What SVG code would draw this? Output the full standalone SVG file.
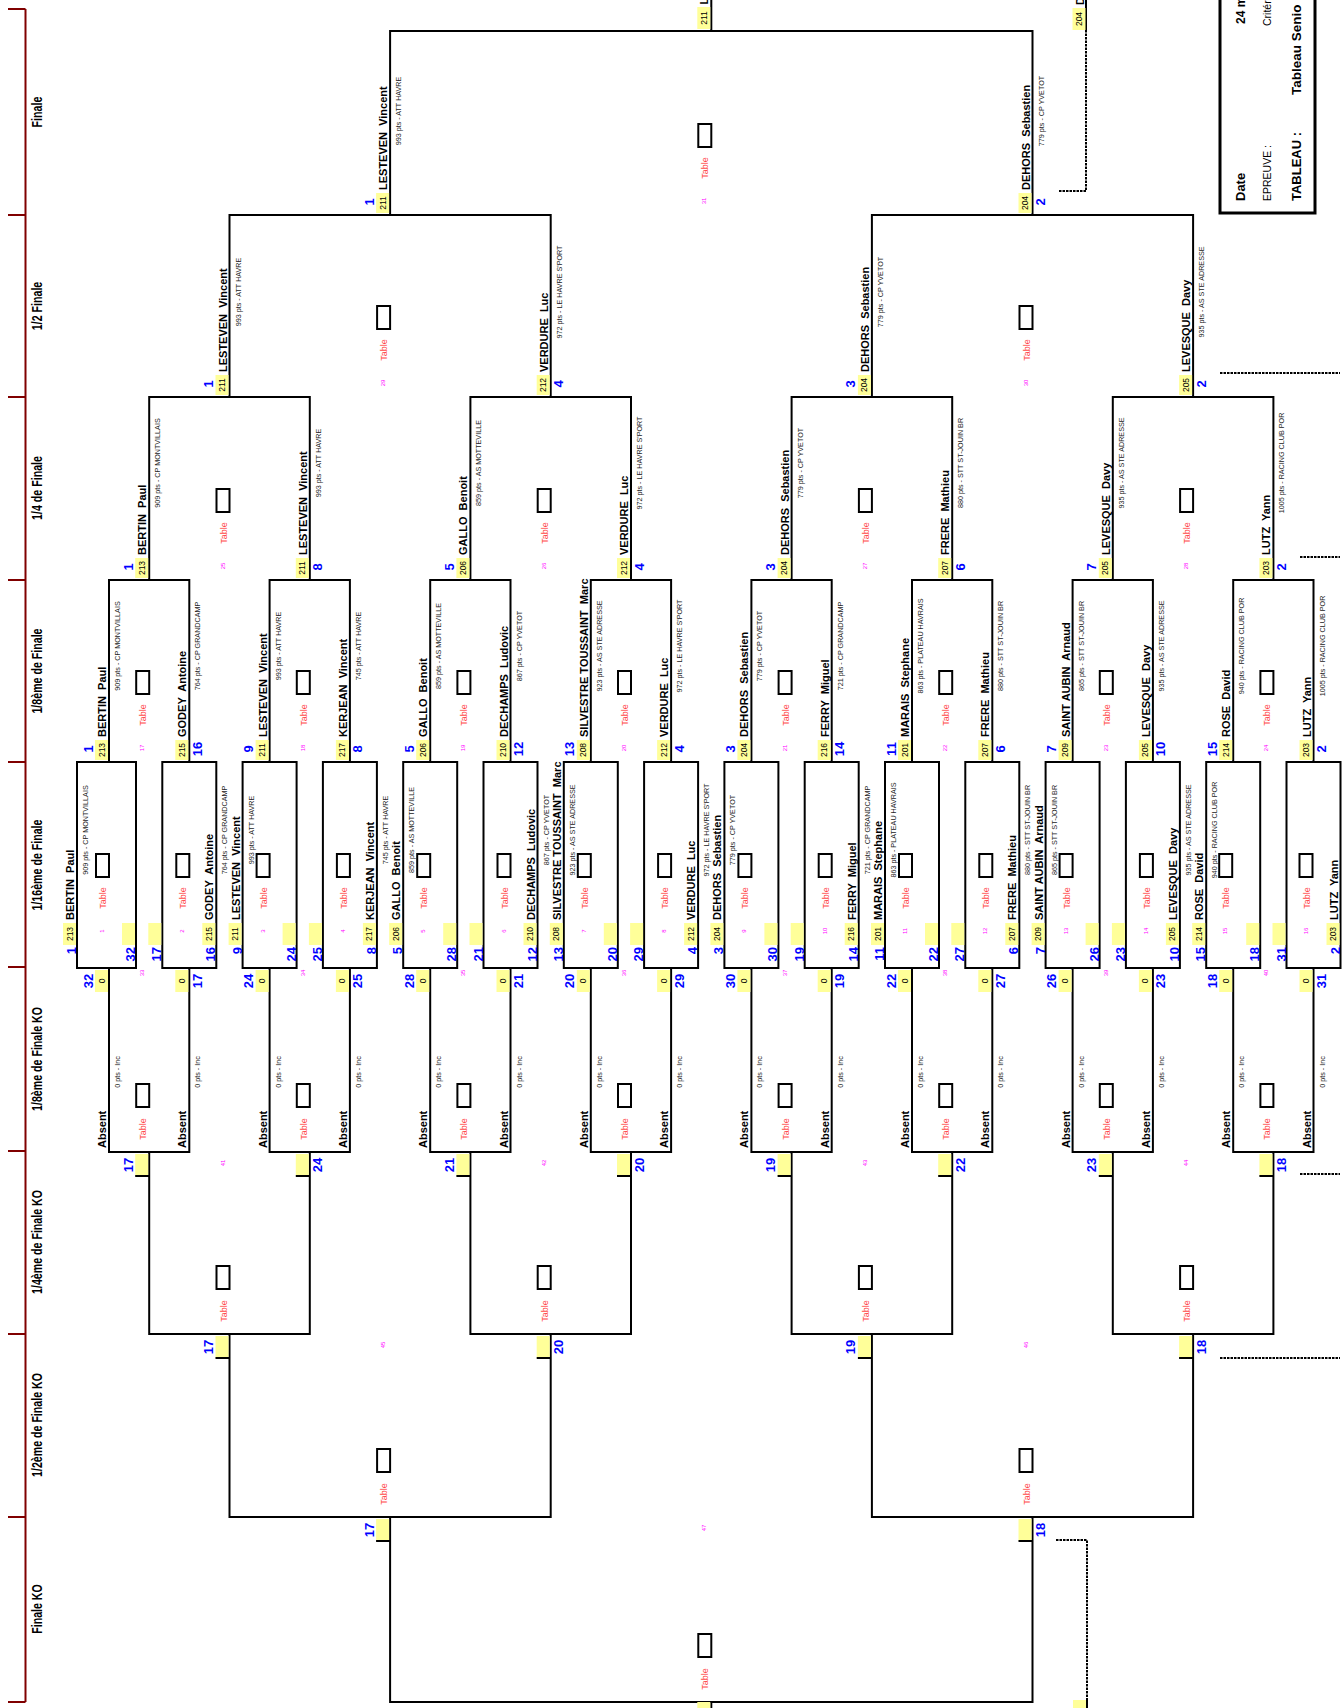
<svg xmlns="http://www.w3.org/2000/svg" width="1343" height="1708" viewBox="0 0 1343 1708">
<style>
text{font-family:"Liberation Sans",Arial,sans-serif}
.ln{fill:none;stroke:#000;stroke-width:2}
.dt{fill:none;stroke:#000;stroke-width:2;stroke-dasharray:2.5 1}
.y{fill:#ffff99}
.tb{fill:#fff;stroke:#000;stroke-width:2}
.n{font-weight:bold;font-size:11px;white-space:pre}
.p{font-size:7.2px;fill:#222;text-anchor:middle}
.b{font-weight:bold;font-size:13px;fill:#0000ff;text-anchor:middle}
.e{text-anchor:end}
.c{font-size:8.5px;text-anchor:middle}
.t{font-size:9px;fill:#ff4848;text-anchor:middle}
.m{font-size:6px;fill:#ff00ff;text-anchor:middle}
.a{font-weight:bold;font-size:14px;text-anchor:middle}
.ax{stroke:#800000;stroke-width:2;fill:none}
</style>
<rect width="1343" height="1708" fill="#fff"/>
<g id="axis">
<path class="ax" d="M25.5 9V1702M8 9H25.5M8 215H25.5M8 397H25.5M8 580H25.5M8 762H25.5M8 967H25.5M8 1151H25.5M8 1334H25.5M8 1517H25.5M8 1702H25.5"/>
<g transform="rotate(-90) scale(0.76,1)">
<text class="a" x="-147.4" y="42">Finale</text>
<text class="a" x="-402.6" y="42">1/2 Finale</text>
<text class="a" x="-642.1" y="42">1/4 de Finale</text>
<text class="a" x="-882.9" y="42">1/8ème de Finale</text>
<text class="a" x="-1138.2" y="42">1/16ème de Finale</text>
<text class="a" x="-1393.4" y="42">1/8ème de Finale KO</text>
<text class="a" x="-1634.2" y="42">1/4ème de Finale KO</text>
<text class="a" x="-1875" y="42">1/2ème de Finale KO</text>
<text class="a" x="-2117.1" y="42">Finale KO</text>
</g>
</g>
<g id="connectors">
<path class="ln" d="M390.1 215V31H1032.5V215M711.3 31V0"/>
<path class="ln" d="M229.5 397V215H550.7V397M871.9 397V215H1193.1V397"/>
<path class="ln" d="M149.2 580V397H309.8V580M470.4 580V397H631V580M791.6 580V397H952.2V580M1112.8 580V397H1273.4V580"/>
<path class="ln" d="M109 762V580H189.3V762M269.6 762V580H349.9V762M430.2 762V580H510.5V762M590.8 762V580H671.1V762M751.4 762V580H831.7V762M912 762V580H992.3V762M1072.6 762V580H1152.9V762M1233.2 762V580H1313.5V762"/>
<path class="ln" d="M77 762H136V968H77ZM162.3 762H216.3V968H162.3ZM242.6 762H296.6V968H242.6ZM322.9 762H376.9V968H322.9ZM403.2 762H457.2V968H403.2ZM483.5 762H537.5V968H483.5ZM563.8 762H617.8V968H563.8ZM644.1 762H698.1V968H644.1ZM724.4 762H778.4V968H724.4ZM804.7 762H858.7V968H804.7ZM885 762H939V968H885ZM965.3 762H1019.3V968H965.3ZM1045.6 762H1099.6V968H1045.6ZM1125.9 762H1179.9V968H1125.9ZM1206.2 762H1260.2V968H1206.2ZM1286.5 762H1340.5V968H1286.5Z"/>
<path class="ln" d="M109 968V1152H189.3V968M269.6 968V1152H349.9V968M430.2 968V1152H510.5V968M590.8 968V1152H671.1V968M751.4 968V1152H831.7V968M912 968V1152H992.3V968M1072.6 968V1152H1152.9V968M1233.2 968V1152H1313.5V968"/>
<path class="ln" d="M149.2 1152V1334H309.8V1152M470.4 1152V1334H631V1152M791.6 1152V1334H952.2V1152M1112.8 1152V1334H1273.4V1152"/>
<path class="ln" d="M229.5 1334V1517H550.7V1334M871.9 1334V1517H1193.1V1334"/>
<path class="ln" d="M390.1 1517V1702H1032.5V1517M711.3 1702V1708"/>
<path class="ln" d="M1086 0V31M1087 1700V1708"/>
<path class="dt" d="M1059 191H1086V31M1220 373H1340M1300 557H1340M1300 1174H1340M1220 1358H1340M1056 1540H1087V1700"/>
</g>
<g id="info">
<rect x="1220" y="-5" width="95" height="218" fill="none" stroke="#000" stroke-width="3"/>
<g transform="rotate(-90)">
<text x="-201" y="1245" font-weight="bold" font-size="13">Date</text>
<text x="-24" y="1245" font-weight="bold" font-size="12">24 m</text>
<text x="-201" y="1271" font-size="10.5">EPREUVE :</text>
<text x="-26" y="1271" font-size="10.5">Critér</text>
<text x="-201" y="1301" font-weight="bold" font-size="13">TABLEAU :</text>
<text x="-95" y="1301" font-weight="bold" font-size="13.5">Tableau Senio</text>
</g>
</g>
<g id="winner" transform="rotate(-90)">
<rect class="y" x="-29" y="697.3" width="22" height="13"/>
<text class="c" x="-18" y="706.8">211</text>
<text class="n" x="-4.5" y="708.3">L</text>
<rect class="y" x="-30" y="1072.5" width="22" height="13"/>
<text class="c" x="-19" y="1082">204</text>
<text class="n" x="-5" y="1083.5">D</text>
<rect class="y" x="-1708" y="697.3" width="6" height="13"/>
<rect class="y" x="-1708" y="1073" width="8" height="13"/>
</g>
<g id="m1" transform="rotate(-90)">
<rect class="tb" x="-877" y="96" width="23" height="13"/><text class="t" x="-898" y="106">Table</text><text class="m" x="-931" y="104">1</text>
<rect class="y" x="-945" y="63" width="22" height="13"/><text class="c" x="-934" y="72.5">213</text><text class="b e" x="-947" y="76">1</text><text class="n" x="-920" y="74">BERTIN  Paul</text><text class="p" x="-830" y="88">909 pts - CP MONTVILLAIS</text>
<rect class="y" x="-945" y="122" width="22" height="13"/><text class="b e" x="-947" y="135">32</text>
</g>
<g id="m2" transform="rotate(-90)">
<rect class="tb" x="-877" y="176.3" width="23" height="13"/><text class="t" x="-898" y="186.3">Table</text><text class="m" x="-931" y="184.3">2</text>
<rect class="y" x="-945" y="148.3" width="22" height="13"/><text class="b e" x="-947" y="161.3">17</text>
<rect class="y" x="-945" y="202.3" width="22" height="13"/><text class="c" x="-934" y="211.8">215</text><text class="b e" x="-947" y="215.3">16</text><text class="n" x="-920" y="213.3">GODEY  Antoine</text><text class="p" x="-830" y="227.3">764 pts - CP GRANDCAMP</text>
</g>
<g id="m3" transform="rotate(-90)">
<rect class="tb" x="-877" y="256.6" width="23" height="13"/><text class="t" x="-898" y="266.6">Table</text><text class="m" x="-931" y="264.6">3</text>
<rect class="y" x="-945" y="228.6" width="22" height="13"/><text class="c" x="-934" y="238.1">211</text><text class="b e" x="-947" y="241.6">9</text><text class="n" x="-920" y="239.6">LESTEVEN  Vincent</text><text class="p" x="-830" y="253.6">993 pts - ATT HAVRE</text>
<rect class="y" x="-945" y="282.6" width="22" height="13"/><text class="b e" x="-947" y="295.6">24</text>
</g>
<g id="m4" transform="rotate(-90)">
<rect class="tb" x="-877" y="336.9" width="23" height="13"/><text class="t" x="-898" y="346.9">Table</text><text class="m" x="-931" y="344.9">4</text>
<rect class="y" x="-945" y="308.9" width="22" height="13"/><text class="b e" x="-947" y="321.9">25</text>
<rect class="y" x="-945" y="362.9" width="22" height="13"/><text class="c" x="-934" y="372.4">217</text><text class="b e" x="-947" y="375.9">8</text><text class="n" x="-920" y="373.9">KERJEAN  Vincent</text><text class="p" x="-830" y="387.9">745 pts - ATT HAVRE</text>
</g>
<g id="m5" transform="rotate(-90)">
<rect class="tb" x="-877" y="417.2" width="23" height="13"/><text class="t" x="-898" y="427.2">Table</text><text class="m" x="-931" y="425.2">5</text>
<rect class="y" x="-945" y="389.2" width="22" height="13"/><text class="c" x="-934" y="398.7">206</text><text class="b e" x="-947" y="402.2">5</text><text class="n" x="-920" y="400.2">GALLO  Benoit</text><text class="p" x="-830" y="414.2">859 pts - AS MOTTEVILLE</text>
<rect class="y" x="-945" y="443.2" width="22" height="13"/><text class="b e" x="-947" y="456.2">28</text>
</g>
<g id="m6" transform="rotate(-90)">
<rect class="tb" x="-877" y="497.5" width="23" height="13"/><text class="t" x="-898" y="507.5">Table</text><text class="m" x="-931" y="505.5">6</text>
<rect class="y" x="-945" y="469.5" width="22" height="13"/><text class="b e" x="-947" y="482.5">21</text>
<rect class="y" x="-945" y="523.5" width="22" height="13"/><text class="c" x="-934" y="533">210</text><text class="b e" x="-947" y="536.5">12</text><text class="n" x="-920" y="534.5">DECHAMPS  Ludovic</text><text class="p" x="-830" y="548.5">867 pts - CP YVETOT</text>
</g>
<g id="m7" transform="rotate(-90)">
<rect class="tb" x="-877" y="577.8" width="23" height="13"/><text class="t" x="-898" y="587.8">Table</text><text class="m" x="-931" y="585.8">7</text>
<rect class="y" x="-945" y="549.8" width="22" height="13"/><text class="c" x="-934" y="559.3">208</text><text class="b e" x="-947" y="562.8">13</text><text class="n" x="-920" y="560.8">SILVESTRE TOUSSAINT  Marc</text><text class="p" x="-830" y="574.8">923 pts - AS STE ADRESSE</text>
<rect class="y" x="-945" y="603.8" width="22" height="13"/><text class="b e" x="-947" y="616.8">20</text>
</g>
<g id="m8" transform="rotate(-90)">
<rect class="tb" x="-877" y="658.1" width="23" height="13"/><text class="t" x="-898" y="668.1">Table</text><text class="m" x="-931" y="666.1">8</text>
<rect class="y" x="-945" y="630.1" width="22" height="13"/><text class="b e" x="-947" y="643.1">29</text>
<rect class="y" x="-945" y="684.1" width="22" height="13"/><text class="c" x="-934" y="693.6">212</text><text class="b e" x="-947" y="697.1">4</text><text class="n" x="-920" y="695.1">VERDURE  Luc</text><text class="p" x="-830" y="709.1">972 pts - LE HAVRE S'PORT</text>
</g>
<g id="m9" transform="rotate(-90)">
<rect class="tb" x="-877" y="738.4" width="23" height="13"/><text class="t" x="-898" y="748.4">Table</text><text class="m" x="-931" y="746.4">9</text>
<rect class="y" x="-945" y="710.4" width="22" height="13"/><text class="c" x="-934" y="719.9">204</text><text class="b e" x="-947" y="723.4">3</text><text class="n" x="-920" y="721.4">DEHORS  Sebastien</text><text class="p" x="-830" y="735.4">779 pts - CP YVETOT</text>
<rect class="y" x="-945" y="764.4" width="22" height="13"/><text class="b e" x="-947" y="777.4">30</text>
</g>
<g id="m10" transform="rotate(-90)">
<rect class="tb" x="-877" y="818.7" width="23" height="13"/><text class="t" x="-898" y="828.7">Table</text><text class="m" x="-931" y="826.7">10</text>
<rect class="y" x="-945" y="790.7" width="22" height="13"/><text class="b e" x="-947" y="803.7">19</text>
<rect class="y" x="-945" y="844.7" width="22" height="13"/><text class="c" x="-934" y="854.2">216</text><text class="b e" x="-947" y="857.7">14</text><text class="n" x="-920" y="855.7">FERRY  Miguel</text><text class="p" x="-830" y="869.7">721 pts - CP GRANDCAMP</text>
</g>
<g id="m11" transform="rotate(-90)">
<rect class="tb" x="-877" y="899" width="23" height="13"/><text class="t" x="-898" y="909">Table</text><text class="m" x="-931" y="907">11</text>
<rect class="y" x="-945" y="871" width="22" height="13"/><text class="c" x="-934" y="880.5">201</text><text class="b e" x="-947" y="884">11</text><text class="n" x="-920" y="882">MARAIS  Stephane</text><text class="p" x="-830" y="896">863 pts - PLATEAU HAVRAIS</text>
<rect class="y" x="-945" y="925" width="22" height="13"/><text class="b e" x="-947" y="938">22</text>
</g>
<g id="m12" transform="rotate(-90)">
<rect class="tb" x="-877" y="979.3" width="23" height="13"/><text class="t" x="-898" y="989.3">Table</text><text class="m" x="-931" y="987.3">12</text>
<rect class="y" x="-945" y="951.3" width="22" height="13"/><text class="b e" x="-947" y="964.3">27</text>
<rect class="y" x="-945" y="1005.3" width="22" height="13"/><text class="c" x="-934" y="1014.8">207</text><text class="b e" x="-947" y="1018.3">6</text><text class="n" x="-920" y="1016.3">FRERE  Mathieu</text><text class="p" x="-830" y="1030.3">880 pts - STT ST-JOUIN BR</text>
</g>
<g id="m13" transform="rotate(-90)">
<rect class="tb" x="-877" y="1059.6" width="23" height="13"/><text class="t" x="-898" y="1069.6">Table</text><text class="m" x="-931" y="1067.6">13</text>
<rect class="y" x="-945" y="1031.6" width="22" height="13"/><text class="c" x="-934" y="1041.1">209</text><text class="b e" x="-947" y="1044.6">7</text><text class="n" x="-920" y="1042.6">SAINT AUBIN  Arnaud</text><text class="p" x="-830" y="1056.6">865 pts - STT ST-JOUIN BR</text>
<rect class="y" x="-945" y="1085.6" width="22" height="13"/><text class="b e" x="-947" y="1098.6">26</text>
</g>
<g id="m14" transform="rotate(-90)">
<rect class="tb" x="-877" y="1139.9" width="23" height="13"/><text class="t" x="-898" y="1149.9">Table</text><text class="m" x="-931" y="1147.9">14</text>
<rect class="y" x="-945" y="1111.9" width="22" height="13"/><text class="b e" x="-947" y="1124.9">23</text>
<rect class="y" x="-945" y="1165.9" width="22" height="13"/><text class="c" x="-934" y="1175.4">205</text><text class="b e" x="-947" y="1178.9">10</text><text class="n" x="-920" y="1176.9">LEVESQUE  Davy</text><text class="p" x="-830" y="1190.9">935 pts - AS STE ADRESSE</text>
</g>
<g id="m15" transform="rotate(-90)">
<rect class="tb" x="-877" y="1219.2" width="23" height="13"/><text class="t" x="-898" y="1229.2">Table</text><text class="m" x="-931" y="1227.2">15</text>
<rect class="y" x="-945" y="1192.2" width="22" height="13"/><text class="c" x="-934" y="1201.7">214</text><text class="b e" x="-947" y="1205.2">15</text><text class="n" x="-920" y="1203.2">ROSE  David</text><text class="p" x="-830" y="1217.2">940 pts - RACING CLUB POR</text>
<rect class="y" x="-945" y="1246.2" width="22" height="13"/><text class="b e" x="-947" y="1259.2">18</text>
</g>
<g id="m16" transform="rotate(-90)">
<rect class="tb" x="-877" y="1299.5" width="23" height="13"/><text class="t" x="-898" y="1309.5">Table</text><text class="m" x="-931" y="1307.5">16</text>
<rect class="y" x="-945" y="1272.5" width="22" height="13"/><text class="b e" x="-947" y="1285.5">31</text>
<rect class="y" x="-945" y="1326.5" width="22" height="13"/><text class="c" x="-934" y="1336">203</text><text class="b e" x="-947" y="1339.5">2</text><text class="n" x="-920" y="1337.5">LUTZ  Yann</text>
</g>
<g id="m17" transform="rotate(-90)">
<rect class="tb" x="-694" y="136.2" width="23" height="13"/><text class="t" x="-715" y="146.2">Table</text><text class="m" x="-748" y="144.2">17</text>
<rect class="y" x="-760" y="95" width="20" height="13"/><text class="c" x="-750" y="104.5">213</text><text class="b" x="-749" y="92.5">1</text><text class="n" x="-737" y="106">BERTIN  Paul</text><text class="p" x="-646" y="120">909 pts - CP MONTVILLAIS</text>
<rect class="y" x="-760" y="175.3" width="20" height="13"/><text class="c" x="-750" y="184.8">215</text><text class="b" x="-749" y="201.8">16</text><text class="n" x="-737" y="186.3">GODEY  Antoine</text><text class="p" x="-646" y="200.3">764 pts - CP GRANDCAMP</text>
</g>
<g id="m18" transform="rotate(-90)">
<rect class="tb" x="-694" y="296.8" width="23" height="13"/><text class="t" x="-715" y="306.8">Table</text><text class="m" x="-748" y="304.8">18</text>
<rect class="y" x="-760" y="255.6" width="20" height="13"/><text class="c" x="-750" y="265.1">211</text><text class="b" x="-749" y="253.1">9</text><text class="n" x="-737" y="266.6">LESTEVEN  Vincent</text><text class="p" x="-646" y="280.6">993 pts - ATT HAVRE</text>
<rect class="y" x="-760" y="335.9" width="20" height="13"/><text class="c" x="-750" y="345.4">217</text><text class="b" x="-749" y="362.4">8</text><text class="n" x="-737" y="346.9">KERJEAN  Vincent</text><text class="p" x="-646" y="360.9">745 pts - ATT HAVRE</text>
</g>
<g id="m19" transform="rotate(-90)">
<rect class="tb" x="-694" y="457.4" width="23" height="13"/><text class="t" x="-715" y="467.4">Table</text><text class="m" x="-748" y="465.4">19</text>
<rect class="y" x="-760" y="416.2" width="20" height="13"/><text class="c" x="-750" y="425.7">206</text><text class="b" x="-749" y="413.7">5</text><text class="n" x="-737" y="427.2">GALLO  Benoit</text><text class="p" x="-646" y="441.2">859 pts - AS MOTTEVILLE</text>
<rect class="y" x="-760" y="496.5" width="20" height="13"/><text class="c" x="-750" y="506">210</text><text class="b" x="-749" y="523">12</text><text class="n" x="-737" y="507.5">DECHAMPS  Ludovic</text><text class="p" x="-646" y="521.5">867 pts - CP YVETOT</text>
</g>
<g id="m20" transform="rotate(-90)">
<rect class="tb" x="-694" y="618" width="23" height="13"/><text class="t" x="-715" y="628">Table</text><text class="m" x="-748" y="626">20</text>
<rect class="y" x="-760" y="576.8" width="20" height="13"/><text class="c" x="-750" y="586.3">208</text><text class="b" x="-749" y="574.3">13</text><text class="n" x="-737" y="587.8">SILVESTRE TOUSSAINT  Marc</text><text class="p" x="-646" y="601.8">923 pts - AS STE ADRESSE</text>
<rect class="y" x="-760" y="657.1" width="20" height="13"/><text class="c" x="-750" y="666.6">212</text><text class="b" x="-749" y="683.6">4</text><text class="n" x="-737" y="668.1">VERDURE  Luc</text><text class="p" x="-646" y="682.1">972 pts - LE HAVRE S'PORT</text>
</g>
<g id="m21" transform="rotate(-90)">
<rect class="tb" x="-694" y="778.6" width="23" height="13"/><text class="t" x="-715" y="788.6">Table</text><text class="m" x="-748" y="786.6">21</text>
<rect class="y" x="-760" y="737.4" width="20" height="13"/><text class="c" x="-750" y="746.9">204</text><text class="b" x="-749" y="734.9">3</text><text class="n" x="-737" y="748.4">DEHORS  Sebastien</text><text class="p" x="-646" y="762.4">779 pts - CP YVETOT</text>
<rect class="y" x="-760" y="817.7" width="20" height="13"/><text class="c" x="-750" y="827.2">216</text><text class="b" x="-749" y="844.2">14</text><text class="n" x="-737" y="828.7">FERRY  Miguel</text><text class="p" x="-646" y="842.7">721 pts - CP GRANDCAMP</text>
</g>
<g id="m22" transform="rotate(-90)">
<rect class="tb" x="-694" y="939.2" width="23" height="13"/><text class="t" x="-715" y="949.2">Table</text><text class="m" x="-748" y="947.2">22</text>
<rect class="y" x="-760" y="898" width="20" height="13"/><text class="c" x="-750" y="907.5">201</text><text class="b" x="-749" y="895.5">11</text><text class="n" x="-737" y="909">MARAIS  Stephane</text><text class="p" x="-646" y="923">863 pts - PLATEAU HAVRAIS</text>
<rect class="y" x="-760" y="978.3" width="20" height="13"/><text class="c" x="-750" y="987.8">207</text><text class="b" x="-749" y="1004.8">6</text><text class="n" x="-737" y="989.3">FRERE  Mathieu</text><text class="p" x="-646" y="1003.3">880 pts - STT ST-JOUIN BR</text>
</g>
<g id="m23" transform="rotate(-90)">
<rect class="tb" x="-694" y="1099.8" width="23" height="13"/><text class="t" x="-715" y="1109.8">Table</text><text class="m" x="-748" y="1107.8">23</text>
<rect class="y" x="-760" y="1058.6" width="20" height="13"/><text class="c" x="-750" y="1068.1">209</text><text class="b" x="-749" y="1056.1">7</text><text class="n" x="-737" y="1069.6">SAINT AUBIN  Arnaud</text><text class="p" x="-646" y="1083.6">865 pts - STT ST-JOUIN BR</text>
<rect class="y" x="-760" y="1138.9" width="20" height="13"/><text class="c" x="-750" y="1148.4">205</text><text class="b" x="-749" y="1165.4">10</text><text class="n" x="-737" y="1149.9">LEVESQUE  Davy</text><text class="p" x="-646" y="1163.9">935 pts - AS STE ADRESSE</text>
</g>
<g id="m24" transform="rotate(-90)">
<rect class="tb" x="-694" y="1260.4" width="23" height="13"/><text class="t" x="-715" y="1270.4">Table</text><text class="m" x="-748" y="1268.4">24</text>
<rect class="y" x="-760" y="1219.2" width="20" height="13"/><text class="c" x="-750" y="1228.7">214</text><text class="b" x="-749" y="1216.7">15</text><text class="n" x="-737" y="1230.2">ROSE  David</text><text class="p" x="-646" y="1244.2">940 pts - RACING CLUB POR</text>
<rect class="y" x="-760" y="1299.5" width="20" height="13"/><text class="c" x="-750" y="1309">203</text><text class="b" x="-749" y="1326">2</text><text class="n" x="-737" y="1310.5">LUTZ  Yann</text><text class="p" x="-646" y="1324.5">1005 pts - RACING CLUB POR</text>
</g>
<g id="m25" transform="rotate(-90)">
<rect class="tb" x="-512" y="216.5" width="23" height="13"/><text class="t" x="-533" y="226.5">Table</text><text class="m" x="-566" y="224.5">25</text>
<rect class="y" x="-578" y="135.2" width="20" height="13"/><text class="c" x="-568" y="144.7">213</text><text class="b" x="-567" y="132.7">1</text><text class="n" x="-555" y="146.2">BERTIN  Paul</text><text class="p" x="-463" y="160.2">909 pts - CP MONTVILLAIS</text>
<rect class="y" x="-578" y="295.8" width="20" height="13"/><text class="c" x="-568" y="305.3">211</text><text class="b" x="-567" y="322.3">8</text><text class="n" x="-555" y="306.8">LESTEVEN  Vincent</text><text class="p" x="-463" y="320.8">993 pts - ATT HAVRE</text>
</g>
<g id="m26" transform="rotate(-90)">
<rect class="tb" x="-512" y="537.7" width="23" height="13"/><text class="t" x="-533" y="547.7">Table</text><text class="m" x="-566" y="545.7">26</text>
<rect class="y" x="-578" y="456.4" width="20" height="13"/><text class="c" x="-568" y="465.9">206</text><text class="b" x="-567" y="453.9">5</text><text class="n" x="-555" y="467.4">GALLO  Benoit</text><text class="p" x="-463" y="481.4">859 pts - AS MOTTEVILLE</text>
<rect class="y" x="-578" y="617" width="20" height="13"/><text class="c" x="-568" y="626.5">212</text><text class="b" x="-567" y="643.5">4</text><text class="n" x="-555" y="628">VERDURE  Luc</text><text class="p" x="-463" y="642">972 pts - LE HAVRE S'PORT</text>
</g>
<g id="m27" transform="rotate(-90)">
<rect class="tb" x="-512" y="858.9" width="23" height="13"/><text class="t" x="-533" y="868.9">Table</text><text class="m" x="-566" y="866.9">27</text>
<rect class="y" x="-578" y="777.6" width="20" height="13"/><text class="c" x="-568" y="787.1">204</text><text class="b" x="-567" y="775.1">3</text><text class="n" x="-555" y="788.6">DEHORS  Sebastien</text><text class="p" x="-463" y="802.6">779 pts - CP YVETOT</text>
<rect class="y" x="-578" y="938.2" width="20" height="13"/><text class="c" x="-568" y="947.7">207</text><text class="b" x="-567" y="964.7">6</text><text class="n" x="-555" y="949.2">FRERE  Mathieu</text><text class="p" x="-463" y="963.2">880 pts - STT ST-JOUIN BR</text>
</g>
<g id="m28" transform="rotate(-90)">
<rect class="tb" x="-512" y="1180.1" width="23" height="13"/><text class="t" x="-533" y="1190.1">Table</text><text class="m" x="-566" y="1188.1">28</text>
<rect class="y" x="-578" y="1098.8" width="20" height="13"/><text class="c" x="-568" y="1108.3">205</text><text class="b" x="-567" y="1096.3">7</text><text class="n" x="-555" y="1109.8">LEVESQUE  Davy</text><text class="p" x="-463" y="1123.8">935 pts - AS STE ADRESSE</text>
<rect class="y" x="-578" y="1259.4" width="20" height="13"/><text class="c" x="-568" y="1268.9">203</text><text class="b" x="-567" y="1285.9">2</text><text class="n" x="-555" y="1270.4">LUTZ  Yann</text><text class="p" x="-463" y="1284.4">1005 pts - RACING CLUB POR</text>
</g>
<g id="m29" transform="rotate(-90)">
<rect class="tb" x="-329" y="377.1" width="23" height="13"/><text class="t" x="-350" y="387.1">Table</text><text class="m" x="-383" y="385.1">29</text>
<rect class="y" x="-395" y="215.5" width="20" height="13"/><text class="c" x="-385" y="225">211</text><text class="b" x="-384" y="213">1</text><text class="n" x="-372" y="226.5">LESTEVEN  Vincent</text><text class="p" x="-292" y="240.5">993 pts - ATT HAVRE</text>
<rect class="y" x="-395" y="536.7" width="20" height="13"/><text class="c" x="-385" y="546.2">212</text><text class="b" x="-384" y="563.2">4</text><text class="n" x="-372" y="547.7">VERDURE  Luc</text><text class="p" x="-292" y="561.7">972 pts - LE HAVRE S'PORT</text>
</g>
<g id="m30" transform="rotate(-90)">
<rect class="tb" x="-329" y="1019.5" width="23" height="13"/><text class="t" x="-350" y="1029.5">Table</text><text class="m" x="-383" y="1027.5">30</text>
<rect class="y" x="-395" y="857.9" width="20" height="13"/><text class="c" x="-385" y="867.4">204</text><text class="b" x="-384" y="855.4">3</text><text class="n" x="-372" y="868.9">DEHORS  Sebastien</text><text class="p" x="-292" y="882.9">779 pts - CP YVETOT</text>
<rect class="y" x="-395" y="1179.1" width="20" height="13"/><text class="c" x="-385" y="1188.6">205</text><text class="b" x="-384" y="1205.6">2</text><text class="n" x="-372" y="1190.1">LEVESQUE  Davy</text><text class="p" x="-292" y="1204.1">935 pts - AS STE ADRESSE</text>
</g>
<g id="m31" transform="rotate(-90)">
<rect class="tb" x="-147" y="698.3" width="23" height="13"/><text class="t" x="-168" y="708.3">Table</text><text class="m" x="-201" y="706.3">31</text>
<rect class="y" x="-213" y="376.1" width="20" height="13"/><text class="c" x="-203" y="385.6">211</text><text class="b" x="-202" y="373.6">1</text><text class="n" x="-190" y="387.1">LESTEVEN  Vincent</text><text class="p" x="-111" y="401.1">993 pts - ATT HAVRE</text>
<rect class="y" x="-213" y="1018.5" width="20" height="13"/><text class="c" x="-203" y="1028">204</text><text class="b" x="-202" y="1045">2</text><text class="n" x="-190" y="1029.5">DEHORS  Sebastien</text><text class="p" x="-111" y="1043.5">779 pts - CP YVETOT</text>
</g>
<g id="m33" transform="rotate(-90)">
<rect class="tb" x="-1107" y="136.2" width="23" height="13"/><text class="t" x="-1129" y="146.2">Table</text><text class="m" x="-973" y="144.2">33</text>
<rect class="y" x="-992" y="95" width="22" height="13"/><text class="c" x="-981" y="104.5">0</text><text class="b" x="-981" y="92.5">32</text><text class="n" x="-1148" y="106">Absent</text><text class="p" x="-1072" y="120">0 pts - Inc</text>
<rect class="y" x="-992" y="175.3" width="22" height="13"/><text class="c" x="-981" y="184.8">0</text><text class="b" x="-981" y="201.8">17</text><text class="n" x="-1148" y="186.3">Absent</text><text class="p" x="-1072" y="200.3">0 pts - Inc</text>
</g>
<g id="m34" transform="rotate(-90)">
<rect class="tb" x="-1107" y="296.8" width="23" height="13"/><text class="t" x="-1129" y="306.8">Table</text><text class="m" x="-973" y="304.8">34</text>
<rect class="y" x="-992" y="255.6" width="22" height="13"/><text class="c" x="-981" y="265.1">0</text><text class="b" x="-981" y="253.1">24</text><text class="n" x="-1148" y="266.6">Absent</text><text class="p" x="-1072" y="280.6">0 pts - Inc</text>
<rect class="y" x="-992" y="335.9" width="22" height="13"/><text class="c" x="-981" y="345.4">0</text><text class="b" x="-981" y="362.4">25</text><text class="n" x="-1148" y="346.9">Absent</text><text class="p" x="-1072" y="360.9">0 pts - Inc</text>
</g>
<g id="m35" transform="rotate(-90)">
<rect class="tb" x="-1107" y="457.4" width="23" height="13"/><text class="t" x="-1129" y="467.4">Table</text><text class="m" x="-973" y="465.4">35</text>
<rect class="y" x="-992" y="416.2" width="22" height="13"/><text class="c" x="-981" y="425.7">0</text><text class="b" x="-981" y="413.7">28</text><text class="n" x="-1148" y="427.2">Absent</text><text class="p" x="-1072" y="441.2">0 pts - Inc</text>
<rect class="y" x="-992" y="496.5" width="22" height="13"/><text class="c" x="-981" y="506">0</text><text class="b" x="-981" y="523">21</text><text class="n" x="-1148" y="507.5">Absent</text><text class="p" x="-1072" y="521.5">0 pts - Inc</text>
</g>
<g id="m36" transform="rotate(-90)">
<rect class="tb" x="-1107" y="618" width="23" height="13"/><text class="t" x="-1129" y="628">Table</text><text class="m" x="-973" y="626">36</text>
<rect class="y" x="-992" y="576.8" width="22" height="13"/><text class="c" x="-981" y="586.3">0</text><text class="b" x="-981" y="574.3">20</text><text class="n" x="-1148" y="587.8">Absent</text><text class="p" x="-1072" y="601.8">0 pts - Inc</text>
<rect class="y" x="-992" y="657.1" width="22" height="13"/><text class="c" x="-981" y="666.6">0</text><text class="b" x="-981" y="683.6">29</text><text class="n" x="-1148" y="668.1">Absent</text><text class="p" x="-1072" y="682.1">0 pts - Inc</text>
</g>
<g id="m37" transform="rotate(-90)">
<rect class="tb" x="-1107" y="778.6" width="23" height="13"/><text class="t" x="-1129" y="788.6">Table</text><text class="m" x="-973" y="786.6">37</text>
<rect class="y" x="-992" y="737.4" width="22" height="13"/><text class="c" x="-981" y="746.9">0</text><text class="b" x="-981" y="734.9">30</text><text class="n" x="-1148" y="748.4">Absent</text><text class="p" x="-1072" y="762.4">0 pts - Inc</text>
<rect class="y" x="-992" y="817.7" width="22" height="13"/><text class="c" x="-981" y="827.2">0</text><text class="b" x="-981" y="844.2">19</text><text class="n" x="-1148" y="828.7">Absent</text><text class="p" x="-1072" y="842.7">0 pts - Inc</text>
</g>
<g id="m38" transform="rotate(-90)">
<rect class="tb" x="-1107" y="939.2" width="23" height="13"/><text class="t" x="-1129" y="949.2">Table</text><text class="m" x="-973" y="947.2">38</text>
<rect class="y" x="-992" y="898" width="22" height="13"/><text class="c" x="-981" y="907.5">0</text><text class="b" x="-981" y="895.5">22</text><text class="n" x="-1148" y="909">Absent</text><text class="p" x="-1072" y="923">0 pts - Inc</text>
<rect class="y" x="-992" y="978.3" width="22" height="13"/><text class="c" x="-981" y="987.8">0</text><text class="b" x="-981" y="1004.8">27</text><text class="n" x="-1148" y="989.3">Absent</text><text class="p" x="-1072" y="1003.3">0 pts - Inc</text>
</g>
<g id="m39" transform="rotate(-90)">
<rect class="tb" x="-1107" y="1099.8" width="23" height="13"/><text class="t" x="-1129" y="1109.8">Table</text><text class="m" x="-973" y="1107.8">39</text>
<rect class="y" x="-992" y="1058.6" width="22" height="13"/><text class="c" x="-981" y="1068.1">0</text><text class="b" x="-981" y="1056.1">26</text><text class="n" x="-1148" y="1069.6">Absent</text><text class="p" x="-1072" y="1083.6">0 pts - Inc</text>
<rect class="y" x="-992" y="1138.9" width="22" height="13"/><text class="c" x="-981" y="1148.4">0</text><text class="b" x="-981" y="1165.4">23</text><text class="n" x="-1148" y="1149.9">Absent</text><text class="p" x="-1072" y="1163.9">0 pts - Inc</text>
</g>
<g id="m40" transform="rotate(-90)">
<rect class="tb" x="-1107" y="1260.4" width="23" height="13"/><text class="t" x="-1129" y="1270.4">Table</text><text class="m" x="-973" y="1268.4">40</text>
<rect class="y" x="-992" y="1219.2" width="22" height="13"/><text class="c" x="-981" y="1228.7">0</text><text class="b" x="-981" y="1216.7">18</text><text class="n" x="-1148" y="1230.2">Absent</text><text class="p" x="-1072" y="1244.2">0 pts - Inc</text>
<rect class="y" x="-992" y="1299.5" width="22" height="13"/><text class="c" x="-981" y="1309">0</text><text class="b" x="-981" y="1326">31</text><text class="n" x="-1148" y="1310.5">Absent</text><text class="p" x="-1072" y="1324.5">0 pts - Inc</text>
</g>
<g id="m41" transform="rotate(-90)">
<rect class="tb" x="-1289" y="216.5" width="23" height="13"/><text class="t" x="-1311" y="226.5">Table</text><text class="m" x="-1163" y="224.5">41</text>
<rect class="y" x="-1176" y="135.2" width="22" height="13"/><text class="b" x="-1165" y="132.7">17</text>
<rect class="y" x="-1176" y="295.8" width="22" height="13"/><text class="b" x="-1165" y="322.3">24</text>
<path class="ln" d="M-1176 135.2V149.2M-1176 295.8V309.8"/>
</g>
<g id="m42" transform="rotate(-90)">
<rect class="tb" x="-1289" y="537.7" width="23" height="13"/><text class="t" x="-1311" y="547.7">Table</text><text class="m" x="-1163" y="545.7">42</text>
<rect class="y" x="-1176" y="456.4" width="22" height="13"/><text class="b" x="-1165" y="453.9">21</text>
<rect class="y" x="-1176" y="617" width="22" height="13"/><text class="b" x="-1165" y="643.5">20</text>
<path class="ln" d="M-1176 456.4V470.4M-1176 617V631"/>
</g>
<g id="m43" transform="rotate(-90)">
<rect class="tb" x="-1289" y="858.9" width="23" height="13"/><text class="t" x="-1311" y="868.9">Table</text><text class="m" x="-1163" y="866.9">43</text>
<rect class="y" x="-1176" y="777.6" width="22" height="13"/><text class="b" x="-1165" y="775.1">19</text>
<rect class="y" x="-1176" y="938.2" width="22" height="13"/><text class="b" x="-1165" y="964.7">22</text>
<path class="ln" d="M-1176 777.6V791.6M-1176 938.2V952.2"/>
</g>
<g id="m44" transform="rotate(-90)">
<rect class="tb" x="-1289" y="1180.1" width="23" height="13"/><text class="t" x="-1311" y="1190.1">Table</text><text class="m" x="-1163" y="1188.1">44</text>
<rect class="y" x="-1176" y="1098.8" width="22" height="13"/><text class="b" x="-1165" y="1096.3">23</text>
<rect class="y" x="-1176" y="1259.4" width="22" height="13"/><text class="b" x="-1165" y="1285.9">18</text>
<path class="ln" d="M-1176 1098.8V1112.8M-1176 1259.4V1273.4"/>
</g>
<g id="m45" transform="rotate(-90)">
<rect class="tb" x="-1472" y="377.1" width="23" height="13"/><text class="t" x="-1494" y="387.1">Table</text><text class="m" x="-1345" y="385.1">45</text>
<rect class="y" x="-1358" y="215.5" width="22" height="13"/><text class="b" x="-1347" y="213">17</text>
<rect class="y" x="-1358" y="536.7" width="22" height="13"/><text class="b" x="-1347" y="563.2">20</text>
<path class="ln" d="M-1358 215.5V229.5M-1358 536.7V550.7"/>
</g>
<g id="m46" transform="rotate(-90)">
<rect class="tb" x="-1472" y="1019.5" width="23" height="13"/><text class="t" x="-1494" y="1029.5">Table</text><text class="m" x="-1345" y="1027.5">46</text>
<rect class="y" x="-1358" y="857.9" width="22" height="13"/><text class="b" x="-1347" y="855.4">19</text>
<rect class="y" x="-1358" y="1179.1" width="22" height="13"/><text class="b" x="-1347" y="1205.6">18</text>
<path class="ln" d="M-1358 857.9V871.9M-1358 1179.1V1193.1"/>
</g>
<g id="m47" transform="rotate(-90)">
<rect class="tb" x="-1657" y="698.3" width="23" height="13"/><text class="t" x="-1679" y="708.3">Table</text><text class="m" x="-1528" y="706.3">47</text>
<rect class="y" x="-1541" y="376.1" width="22" height="13"/><text class="b" x="-1530" y="373.6">17</text>
<rect class="y" x="-1541" y="1018.5" width="22" height="13"/><text class="b" x="-1530" y="1045">18</text>
<path class="ln" d="M-1541 376.1V390.1M-1541 1018.5V1032.5"/>
</g>
</svg>
